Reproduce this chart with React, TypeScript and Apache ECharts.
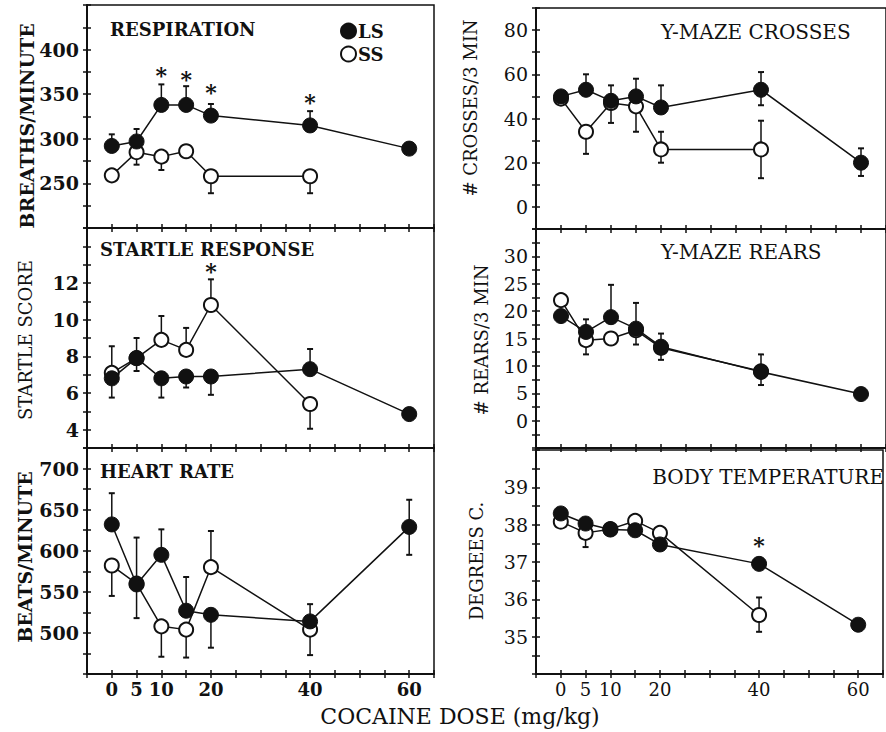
import React, { useEffect, useRef } from 'react';
import * as echarts from 'echarts';

// ---------- DATA ----------
const DOSES_LS = [0, 5, 10, 15, 20, 40, 60];
const DOSES_SS = [0, 5, 10, 15, 20, 40];
const DOSE_TICK_LABELS = [0, 5, 10, 20, 40, 60];

// Respiration (breaths/minute)
const RESP_LS = [292, 297, 338, 338, 326, 315, 289];
const RESP_LS_HI = [305, 311, 361, 359, 339, 331, null];
const RESP_LS_LO = [null, null, null, null, null, null, null];
const RESP_SS = [259, 285, 280, 286, 258, 258];
const RESP_SS_HI = [null, null, null, null, null, null];
const RESP_SS_LO = [null, 271, 265, null, 239, 239];
const RESP_STAR_X = [10, 15, 20, 40];
const RESP_STAR_Y = [376, 372, 357, 346];
const RESP_TICKS = [250, 300, 350, 400];

// Startle response (score)
const STARTLE_LS = [6.8, 7.9, 6.8, 6.9, 6.9, 7.3, 4.85];
const STARTLE_LS_HI = [null, 9.0, null, null, null, 8.4, null];
const STARTLE_LS_LO = [5.75, 7.2, 5.75, 6.3, 5.9, null, null];
const STARTLE_SS = [7.1, 7.9, 8.9, 8.35, 10.8, 5.4];
const STARTLE_SS_HI = [8.55, null, 10.2, 9.55, 12.2, null];
const STARTLE_SS_LO = [null, null, null, null, null, 4.05];
const STARTLE_STAR_X = [20];
const STARTLE_STAR_Y = [12.9];
const STARTLE_TICKS = [4, 6, 8, 10, 12];

// Heart rate (beats/minute)
const HEART_LS = [632, 559, 595, 527, 522, 514, 629];
const HEART_LS_HI = [670, 616, 626, 568, null, 535, 662];
const HEART_LS_LO = [null, 518, null, null, 482, null, 595];
const HEART_SS = [582, 560, 508, 504, 580, 504];
const HEART_SS_HI = [null, null, null, null, 624, null];
const HEART_SS_LO = [545, null, 471, 470, null, 473];
const HEART_TICKS = [500, 550, 600, 650, 700];

// Y-maze crosses (#/3 min)
const CROSS_LS = [50, 53, 48, 50, 45, 53, 20];
const CROSS_LS_HI = [null, 60, 55, 58, 55, 61, 26.5];
const CROSS_LS_LO = [null, null, null, null, null, 46, 14];
const CROSS_SS = [49, 34, 47, 45.5, 26, 26];
const CROSS_SS_HI = [null, null, null, null, 34, 39];
const CROSS_SS_LO = [null, 24, 38, 34, 20, 13];
const CROSS_TICKS = [0, 20, 40, 60, 80];

// Y-maze rears (#/3 min)
const REAR_LS = [19.1, 16.2, 18.9, 16.8, 13.5, 8.9, 4.85];
const REAR_LS_HI = [null, 18.5, 24.8, 21.5, 15.9, 12.1, null];
const REAR_LS_LO = [null, null, null, 13.9, 11.1, 6.5, null];
const REAR_SS = [22, 14.7, 15.0, 16.5, 13.3, 9.0];
const REAR_SS_HI = [null, null, null, null, null, null];
const REAR_SS_LO = [null, 12.1, null, null, null, null];
const REAR_TICKS = [0, 5, 10, 15, 20, 25, 30];

// Body temperature (degrees C)
const TEMP_LS = [38.3, 38.03, 37.87, 37.85, 37.47, 36.95, 35.32];
const TEMP_LS_HI = [null, null, null, null, null, null, null];
const TEMP_LS_LO = [null, null, null, null, null, null, null];
const TEMP_SS = [38.08, 37.78, 37.88, 38.1, 37.78, 35.58];
const TEMP_SS_HI = [null, null, null, null, null, 36.05];
const TEMP_SS_LO = [null, 37.4, null, null, null, 35.13];
const TEMP_STAR_X = [40];
const TEMP_STAR_Y = [37.55];
const TEMP_TICKS = [35, 36, 37, 38, 39];

// ---------- LAYOUT ----------
const FONT = '"DejaVu Serif", serif';
const INK = '#111';

type Panel = {
  title: string; titleX: number; titleY: number; titleAlign: string; titleSize: number;
  yName: string; yNameX: number; yNameY: number; yNameSize: number; yNameBold: boolean;
  left: number; top: number; width: number; height: number;
  min: number; max: number; step: number; ticks: number[];
  bold: boolean; showX: boolean;
  ls: number[]; lsHi: (number | null)[]; lsLo: (number | null)[];
  ss: number[]; ssHi: (number | null)[]; ssLo: (number | null)[];
  starX: number[]; starY: number[];
};

const PANELS: Panel[] = [
  {
    title: 'RESPIRATION', titleX: 110, titleY: 29, titleAlign: 'left', titleSize: 18,
    yName: 'BREATHS/MINUTE', yNameX: 27, yNameY: 126, yNameSize: 19, yNameBold: true,
    left: 87, top: 5, width: 347, height: 223,
    min: 200, max: 450, step: 25, ticks: RESP_TICKS, bold: true, showX: false,
    ls: RESP_LS, lsHi: RESP_LS_HI, lsLo: RESP_LS_LO, ss: RESP_SS, ssHi: RESP_SS_HI, ssLo: RESP_SS_LO,
    starX: RESP_STAR_X, starY: RESP_STAR_Y,
  },
  {
    title: 'STARTLE RESPONSE', titleX: 100, titleY: 249, titleAlign: 'left', titleSize: 18,
    yName: 'STARTLE SCORE', yNameX: 25, yNameY: 340, yNameSize: 18, yNameBold: false,
    left: 87, top: 228, width: 347, height: 220,
    min: 3, max: 15, step: 1, ticks: STARTLE_TICKS, bold: true, showX: false,
    ls: STARTLE_LS, lsHi: STARTLE_LS_HI, lsLo: STARTLE_LS_LO, ss: STARTLE_SS, ssHi: STARTLE_SS_HI, ssLo: STARTLE_SS_LO,
    starX: STARTLE_STAR_X, starY: STARTLE_STAR_Y,
  },
  {
    title: 'HEART RATE', titleX: 100, titleY: 471, titleAlign: 'left', titleSize: 18,
    yName: 'BEATS/MINUTE', yNameX: 25, yNameY: 557, yNameSize: 19, yNameBold: true,
    left: 87, top: 448, width: 347, height: 226,
    min: 450, max: 725, step: 25, ticks: HEART_TICKS, bold: true, showX: true,
    ls: HEART_LS, lsHi: HEART_LS_HI, lsLo: HEART_LS_LO, ss: HEART_SS, ssHi: HEART_SS_HI, ssLo: HEART_SS_LO,
    starX: [], starY: [],
  },
  {
    title: 'Y-MAZE CROSSES', titleX: 661, titleY: 32, titleAlign: 'left', titleSize: 20,
    yName: '# CROSSES/3 MIN', yNameX: 470, yNameY: 108, yNameSize: 18, yNameBold: false,
    left: 536, top: 8, width: 353, height: 221,
    min: -10, max: 90, step: 10, ticks: CROSS_TICKS, bold: false, showX: false,
    ls: CROSS_LS, lsHi: CROSS_LS_HI, lsLo: CROSS_LS_LO, ss: CROSS_SS, ssHi: CROSS_SS_HI, ssLo: CROSS_SS_LO,
    starX: [], starY: [],
  },
  {
    title: 'Y-MAZE REARS', titleX: 661, titleY: 252, titleAlign: 'left', titleSize: 20,
    yName: '# REARS/3 MIN', yNameX: 481, yNameY: 340, yNameSize: 18, yNameBold: false,
    left: 536, top: 229, width: 353, height: 219,
    min: -5, max: 35, step: 2.5, ticks: REAR_TICKS, bold: false, showX: false,
    ls: REAR_LS, lsHi: REAR_LS_HI, lsLo: REAR_LS_LO, ss: REAR_SS, ssHi: REAR_SS_HI, ssLo: REAR_SS_LO,
    starX: [], starY: [],
  },
  {
    title: 'BODY TEMPERATURE', titleX: 884, titleY: 477, titleAlign: 'right', titleSize: 20,
    yName: 'DEGREES C.', yNameX: 476, yNameY: 561, yNameSize: 18, yNameBold: false,
    left: 536, top: 450, width: 353, height: 224,
    min: 34, max: 40, step: 0.5, ticks: TEMP_TICKS, bold: false, showX: true,
    ls: TEMP_LS, lsHi: TEMP_LS_HI, lsLo: TEMP_LS_LO, ss: TEMP_SS, ssHi: TEMP_SS_HI, ssLo: TEMP_SS_LO,
    starX: TEMP_STAR_X, starY: TEMP_STAR_Y,
  },
];

function errRows(xs: number[], ys: number[], hi: (number | null)[], lo: (number | null)[]) {
  const rows: number[][] = [];
  xs.forEach((x, j) => {
    if (hi[j] != null) rows.push([x, ys[j], hi[j] as number]);
    if (lo[j] != null) rows.push([x, ys[j], lo[j] as number]);
  });
  return rows;
}

function buildOption() {
  const grid: any[] = [];
  const xAxis: any[] = [];
  const yAxis: any[] = [];
  const series: any[] = [];
  const graphic: any[] = [];

  PANELS.forEach((p, i) => {
    const fw = p.bold ? 'bold' : 'normal';
    grid.push({
      left: p.left, top: p.top, width: p.width, height: p.height,
      show: true, borderColor: INK, borderWidth: 1.5, backgroundColor: 'transparent',
    });
    const xBase = {
      gridIndex: i, type: 'value', min: -5, max: 65, interval: 5, position: 'bottom',
      splitLine: { show: false },
    };
    xAxis.push({
      ...xBase,
      axisLine: { show: true, onZero: false, lineStyle: { color: INK, width: 2 } },
      axisTick: { show: true, inside: false, length: 4, lineStyle: { color: INK, width: 1.5 } },
      axisLabel: {
        show: p.showX, margin: 6, fontFamily: FONT, fontSize: 18, lineHeight: 18, fontWeight: fw, color: INK,
        formatter: (v: number) => (DOSE_TICK_LABELS.includes(v) ? String(v) : ''),
      },
    });
    xAxis.push({
      ...xBase,
      axisLine: { show: false, onZero: false },
      axisTick: { show: true, inside: true, length: 4, lineStyle: { color: INK, width: 1.5 } },
      axisLabel: { show: false },
    });
    const yBase = {
      gridIndex: i, type: 'value', min: p.min, max: p.max, interval: p.step, position: 'left',
      splitLine: { show: false },
    };
    yAxis.push({
      ...yBase,
      axisLine: { show: true, onZero: false, lineStyle: { color: INK, width: 2 } },
      axisTick: { show: true, inside: false, length: 4, lineStyle: { color: INK, width: 1.5 } },
      axisLabel: {
        show: true, margin: 8, fontFamily: FONT, fontSize: 19, fontWeight: fw, color: INK,
        formatter: (v: number) => (p.ticks.includes(v) ? String(v) : ''),
      },
    });
    yAxis.push({
      ...yBase,
      axisLine: { show: false, onZero: false },
      axisTick: { show: true, inside: true, length: 4, lineStyle: { color: INK, width: 1.5 } },
      axisLabel: { show: false },
    });

    const xi = i * 2;
    const errData = [
      ...errRows(DOSES_SS, p.ss, p.ssHi, p.ssLo),
      ...errRows(DOSES_LS, p.ls, p.lsHi, p.lsLo),
    ];
    series.push({
      type: 'custom', xAxisIndex: xi, yAxisIndex: xi, z: 1, silent: true,
      data: errData,
      encode: { x: 0, y: [1, 2] },
      renderItem: (_params: any, api: any) => {
        const x = api.value(0);
        const p0 = api.coord([x, api.value(1)]);
        const p1 = api.coord([x, api.value(2)]);
        return {
          type: 'group',
          children: [
            { type: 'line', shape: { x1: p0[0], y1: p0[1], x2: p1[0], y2: p1[1] }, style: { stroke: INK, lineWidth: 1.5 } },
            { type: 'line', shape: { x1: p1[0] - 3, y1: p1[1], x2: p1[0] + 3, y2: p1[1] }, style: { stroke: INK, lineWidth: 2 } },
          ],
        };
      },
    });
    series.push({
      name: 'SS', type: 'line', xAxisIndex: xi, yAxisIndex: xi, z: 2,
      data: DOSES_SS.map((d, j) => [d, p.ss[j]]),
      symbol: 'circle', symbolSize: 14, showSymbol: true,
      lineStyle: { color: INK, width: 1.5 },
      itemStyle: { color: '#fff', borderColor: INK, borderWidth: 2 },
      emphasis: { disabled: true },
    });
    series.push({
      name: 'LS', type: 'line', xAxisIndex: xi, yAxisIndex: xi, z: 3,
      data: DOSES_LS.map((d, j) => [d, p.ls[j]]),
      symbol: 'circle', symbolSize: 15, showSymbol: true,
      lineStyle: { color: INK, width: 1.5 },
      itemStyle: { color: INK, borderColor: INK, borderWidth: 1 },
      emphasis: { disabled: true },
    });
    if (p.starX.length) {
      series.push({
        type: 'custom', xAxisIndex: xi, yAxisIndex: xi, z: 4, silent: true,
        data: p.starX.map((x, j) => [x, p.starY[j]]),
        encode: { x: 0, y: 1 },
        renderItem: (_params: any, api: any) => {
          const c = api.coord([api.value(0), api.value(1)]);
          return {
            type: 'text', x: c[0], y: c[1] + 4,
            style: { text: '*', font: `bold 22px ${FONT}`, fill: INK, align: 'center', verticalAlign: 'middle' },
          };
        },
      });
    }

    graphic.push({
      type: 'text', x: p.titleX, y: p.titleY,
      style: {
        text: p.title, font: `${fw} ${p.titleSize}px ${FONT}`, fill: INK,
        align: p.titleAlign, verticalAlign: 'middle',
      },
    });
    graphic.push({
      type: 'text', x: p.yNameX, y: p.yNameY, rotation: Math.PI / 2,
      style: {
        text: p.yName, font: `${p.yNameBold ? 'bold' : 'normal'} ${p.yNameSize}px ${FONT}`, fill: INK,
        align: 'center', verticalAlign: 'middle',
      },
    });
  });

  graphic.push({
    type: 'text', x: 460, y: 716,
    style: { text: 'COCAINE DOSE (mg/kg)', font: `normal 22px ${FONT}`, fill: INK, align: 'center', verticalAlign: 'middle' },
  });

  return {
    animation: false,
    backgroundColor: '#fff',
    grid, xAxis, yAxis, series, graphic,
    legend: {
      data: ['LS', 'SS'], orient: 'vertical', left: 340, top: 22, padding: 0,
      itemWidth: 15, itemHeight: 15, itemGap: 5, icon: 'circle', selectedMode: false,
      textStyle: { fontFamily: FONT, fontSize: 18, fontWeight: 'bold', color: INK, padding: [0, 0, 0, -3] },
    },
  };
}

export default function App() {
  const ref = useRef<HTMLDivElement>(null);
  useEffect(() => {
    if (!ref.current) return;
    const chart = echarts.init(ref.current, undefined, { renderer: 'svg' });
    chart.setOption(buildOption() as any);
    return () => chart.dispose();
  }, []);
  return (
    <div
      ref={ref}
      style={{ position: 'absolute', left: 0, top: 0, width: 886, height: 732, background: '#fff' }}
    />
  );
}
